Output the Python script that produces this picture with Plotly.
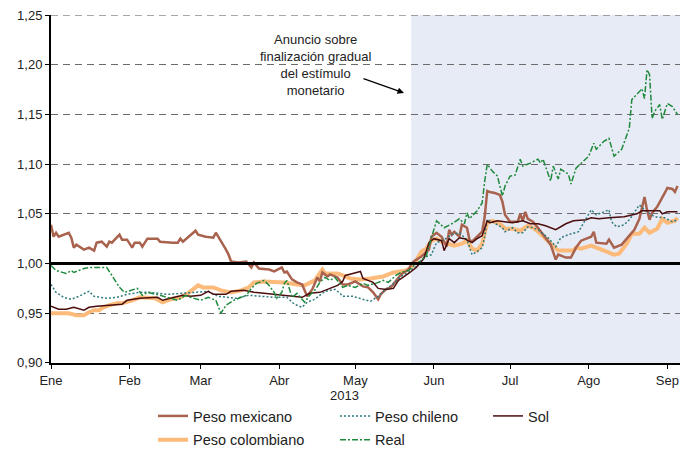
import pandas as pd
import plotly.graph_objects as go

# Days counted from 1 Jan 2013 (0 = 1 Jan)
mx_dias = [0, 1, 2, 3, 7, 8, 9, 10, 13, 15, 17, 18, 20, 22, 23, 24, 27, 28, 30, 32, 33, 35, 36, 38, 42, 43, 48, 50,
           51, 52, 57, 58, 61, 64, 65, 66, 68, 69, 70, 71, 74, 77, 79, 80, 82, 86, 88, 91, 92, 93, 95, 97, 99, 101,
           103, 105, 106, 107, 109, 110, 113, 115, 117, 120, 123, 125, 127, 129, 130, 132, 134, 136, 138, 141, 142,
           143, 146, 149, 150, 152, 154, 156, 157, 158, 159, 161, 162, 164, 165, 166, 168, 170, 171, 172, 173, 175,
           177, 178, 179, 181, 184, 185, 186, 187, 188, 190, 192, 195, 197, 199, 200, 203, 205, 207, 209, 213, 214,
           215, 219, 220, 222, 225, 227, 230, 232, 233, 234, 235, 236, 237, 239, 242, 243, 245, 246, 247]
mx_vals = [1.039, 1.027, 1.031, 1.027, 1.031, 1.026, 1.016, 1.019, 1.014, 1.016, 1.013, 1.021, 1.022, 1.017, 1.022,
           1.021, 1.029, 1.024, 1.024, 1.016, 1.021, 1.021, 1.017, 1.025, 1.025, 1.022, 1.021, 1.021, 1.025, 1.022,
           1.033, 1.029, 1.027, 1.026, 1.031, 1.027, 1.019, 1.014, 1.009, 1.002, 1.001, 1.002, 0.996, 1.001, 0.995,
           0.994, 0.992, 0.996, 0.991, 0.992, 0.984, 0.981, 0.979, 0.967, 0.974, 0.986, 0.982, 0.991, 0.987, 0.989,
           0.986, 0.979, 0.979, 0.982, 0.977, 0.976, 0.971, 0.964, 0.969, 0.974, 0.976, 0.982, 0.989, 0.994, 0.999,
           1.002, 1.007, 1.014, 1.027, 1.031, 1.027, 1.017, 1.034, 1.029, 1.032, 1.027, 1.039, 1.036, 1.024, 1.022,
           1.027, 1.032, 1.047, 1.073, 1.072, 1.071, 1.069, 1.062, 1.049, 1.042, 1.042, 1.050, 1.043, 1.052, 1.045,
           1.042, 1.036, 1.026, 1.019, 1.004, 1.009, 1.006, 1.006, 1.016, 1.023, 1.027, 1.032, 1.021, 1.020, 1.024,
           1.016, 1.019, 1.025, 1.034, 1.045, 1.055, 1.067, 1.054, 1.044, 1.051, 1.057, 1.071, 1.076, 1.075, 1.072,
           1.078]

cl_dias = [0, 2, 5, 8, 11, 15, 17, 22, 26, 30, 35, 39, 46, 52, 59, 62, 66, 69, 73, 78, 83, 88, 93, 96, 99, 101, 104,
           108, 112, 114, 115, 119, 123, 126, 129, 132, 136, 138, 141, 144, 147, 150, 152, 155, 158, 161, 164, 166,
           168, 170, 171, 172, 174, 178, 179, 182, 184, 186, 188, 190, 192, 196, 199, 201, 204, 208, 210, 213, 215,
           217, 220, 221, 223, 226, 228, 232, 234, 238, 242, 245, 247]
cl_vals = [0.979, 0.971, 0.966, 0.964, 0.967, 0.972, 0.967, 0.965, 0.966, 0.969, 0.971, 0.971, 0.969, 0.970, 0.971,
           0.972, 0.967, 0.966, 0.965, 0.968, 0.967, 0.966, 0.966, 0.959, 0.956, 0.961, 0.964, 0.972, 0.974, 0.970,
           0.967, 0.967, 0.964, 0.962, 0.967, 0.974, 0.982, 0.987, 0.991, 0.997, 1.006, 1.009, 1.021, 1.024, 1.029,
           1.031, 1.024, 1.009, 1.012, 1.016, 1.027, 1.044, 1.042, 1.036, 1.032, 1.036, 1.031, 1.031, 1.037, 1.036,
           1.034, 1.026, 1.017, 1.026, 1.029, 1.032, 1.041, 1.054, 1.049, 1.051, 1.054, 1.042, 1.037, 1.039, 1.044,
           1.059, 1.054, 1.047, 1.046, 1.042, 1.044]

sol_dias = [0, 3, 6, 9, 13, 15, 18, 23, 28, 30, 35, 42, 44, 47, 52, 55, 59, 62, 64, 69, 71, 76, 80, 84, 91, 95, 99,
            102, 106, 110, 113, 115, 116, 119, 122, 123, 127, 129, 132, 135, 137, 141, 144, 147, 149, 151, 154, 155,
            157, 159, 161, 163, 166, 168, 170, 172, 173, 176, 182, 186, 189, 192, 195, 199, 203, 206, 211, 213, 216,
            220, 226, 231, 233, 237, 240, 241, 243, 247]
sol_vals = [0.957, 0.954, 0.954, 0.956, 0.953, 0.956, 0.957, 0.958, 0.959, 0.963, 0.965, 0.966, 0.963, 0.965, 0.968,
            0.967, 0.968, 0.972, 0.969, 0.969, 0.972, 0.973, 0.971, 0.970, 0.968, 0.967, 0.966, 0.970, 0.971, 0.975,
            0.978, 0.982, 0.988, 0.990, 0.992, 0.985, 0.981, 0.975, 0.974, 0.975, 0.983, 0.990, 0.996, 1.005, 1.021,
            1.025, 1.023, 1.013, 1.025, 1.021, 1.026, 1.025, 1.021, 1.025, 1.028, 1.043, 1.041, 1.043, 1.041, 1.043,
            1.040, 1.040, 1.038, 1.034, 1.040, 1.043, 1.044, 1.046, 1.045, 1.046, 1.047, 1.050, 1.053, 1.053, 1.053,
            1.050, 1.052, 1.052]

co_dias = [0, 3, 5, 7, 10, 13, 15, 17, 19, 20, 23, 26, 28, 30, 32, 35, 38, 41, 44, 47, 51, 54, 58, 60, 64, 67, 71,
           75, 78, 80, 84, 92, 97, 100, 104, 107, 108, 113, 118, 122, 126, 131, 135, 140, 142, 144, 146, 148, 150,
           152, 155, 157, 159, 162, 164, 166, 168, 170, 172, 174, 177, 179, 182, 185, 188, 190, 193, 197, 200, 203,
           206, 207, 209, 213, 215, 219, 222, 224, 227, 229, 232, 234, 236, 239, 241, 243, 246, 247]
co_vals = [0.950, 0.950, 0.951, 0.950, 0.948, 0.948, 0.951, 0.953, 0.953, 0.955, 0.958, 0.960, 0.960, 0.961, 0.963,
           0.966, 0.966, 0.965, 0.961, 0.964, 0.966, 0.970, 0.978, 0.976, 0.976, 0.973, 0.971, 0.973, 0.976, 0.981,
           0.982, 0.981, 0.979, 0.978, 0.983, 0.994, 0.990, 0.990, 0.985, 0.984, 0.985, 0.987, 0.991, 0.993, 0.996,
           1.003, 1.012, 1.015, 1.023, 1.025, 1.021, 1.020, 1.018, 1.020, 1.023, 1.015, 1.013, 1.020, 1.041, 1.043,
           1.040, 1.035, 1.035, 1.033, 1.038, 1.036, 1.030, 1.020, 1.013, 1.013, 1.013, 1.016, 1.015, 1.018, 1.016,
           1.013, 1.009, 1.010, 1.020, 1.030, 1.030, 1.036, 1.031, 1.035, 1.045, 1.041, 1.043, 1.046]

re_dias = [0, 2, 6, 8, 9, 13, 15, 19, 22, 24, 27, 29, 32, 34, 36, 38, 43, 46, 50, 53, 55, 59, 62, 65, 67, 69, 72, 75,
           77, 79, 81, 84, 86, 88, 89, 91, 92, 93, 95, 97, 100, 102, 104, 106, 108, 110, 112, 115, 117, 120, 123, 125,
           128, 131, 133, 136, 138, 141, 144, 146, 148, 150, 152, 155, 158, 161, 163, 164, 165, 168, 170, 171, 172,
           174, 176, 178, 179, 181, 183, 185, 186, 189, 192, 193, 194, 197, 198, 200, 201, 204, 205, 207, 209, 212,
           214, 215, 218, 220, 222, 225, 228, 229, 232, 233, 234, 235, 236, 237, 238, 240, 241, 243, 245, 247]
re_vals = [0.998, 0.993, 0.990, 0.993, 0.991, 0.995, 0.996, 0.996, 0.996, 0.988, 0.976, 0.971, 0.973, 0.975, 0.968,
           0.971, 0.968, 0.966, 0.963, 0.968, 0.966, 0.963, 0.966, 0.963, 0.950, 0.958, 0.963, 0.966, 0.968, 0.975,
           0.980, 0.983, 0.978, 0.971, 0.965, 0.971, 0.980, 0.983, 0.966, 0.970, 0.961, 0.968, 0.973, 0.981, 0.986,
           0.983, 0.986, 0.976, 0.978, 0.976, 0.980, 0.978, 0.980, 0.983, 0.981, 0.988, 0.991, 0.993, 1.000, 1.003,
           1.008, 1.026, 1.043, 1.036, 1.040, 1.045, 1.040, 1.051, 1.045, 1.053, 1.061, 1.083, 1.100, 1.093, 1.088,
           1.068, 1.078, 1.088, 1.089, 1.105, 1.098, 1.101, 1.105, 1.101, 1.105, 1.083, 1.098, 1.085, 1.095, 1.090,
           1.080, 1.096, 1.101, 1.108, 1.121, 1.115, 1.123, 1.126, 1.108, 1.115, 1.136, 1.165, 1.173, 1.176, 1.166,
           1.195, 1.190, 1.146, 1.153, 1.160, 1.145, 1.161, 1.158, 1.150]

mes_vals = ["2013-01-01", "2013-02-01", "2013-03-01", "2013-04-01", "2013-05-01",
            "2013-06-01", "2013-07-01", "2013-08-01", "2013-09-01"]
mes_text = ["Ene", "Feb", "Mar", "Abr", "May", "Jun", "Jul", "Ago", "Sep"]
y_ticks = [0.90, 0.95, 1.00, 1.05, 1.10, 1.15, 1.20, 1.25]

anuncio = "2013-05-23"
fin_eje = "2013-09-06"
texto_anuncio = "Anuncio sobre<br>finalización gradual<br>del estímulo<br>monetario"

FONT = "Liberation Sans, Arial, sans-serif"
base = pd.Timestamp("2013-01-01")


def fechas(dias):
    return base + pd.to_timedelta(dias, unit="D")


fig = go.Figure()

# orange first so the thinner lines sit on top of it
fig.add_trace(go.Scatter(x=fechas(co_dias), y=co_vals, name="Peso colombiano", mode="lines",
                         line=dict(color="#FDBB7B", width=4), legend="legend", legendrank=2,
                         legendgroup="co"))
fig.add_trace(go.Scatter(x=fechas(mx_dias), y=mx_vals, name="Peso mexicano", mode="lines",
                         line=dict(color="#A8624E", width=2.5), legend="legend", legendrank=1,
                         legendgroup="mx"))
fig.add_trace(go.Scatter(x=fechas(cl_dias), y=cl_vals, name="Peso chileno", mode="lines",
                         line=dict(color="#2E7A7E", width=1.5, dash="2px,2px"), legend="legend2",
                         legendrank=1, legendgroup="cl"))
fig.add_trace(go.Scatter(x=fechas(sol_dias), y=sol_vals, name="Sol", mode="lines",
                         line=dict(color="#4A0C0C", width=1.5), legend="legend3", legendgroup="sol"))
fig.add_trace(go.Scatter(x=fechas(re_dias), y=re_vals, name="Real", mode="lines",
                         line=dict(color="#1F8A3C", width=1.5, dash="6px,2px,2px,2px"), legend="legend2",
                         legendrank=2, legendgroup="re"))

# shaded period after the announcement
fig.add_shape(type="rect", xref="x", yref="paper", x0=anuncio, x1=fin_eje, y0=0, y1=1,
              fillcolor="#E7EBF5", line_width=0, layer="below")
# thick reference line at 1,00
fig.add_shape(type="line", xref="paper", yref="y", x0=0, x1=1, y0=1.0, y1=1.0,
              line=dict(color="black", width=3))
# dashed line at the top (1,25) so it does not depend on the edge tick
fig.add_shape(type="line", xref="paper", yref="y", x0=0, x1=1, y0=1.25, y1=1.25,
              line=dict(color="#6b6b6b", width=1, dash="7px,5px"), layer="below")

fig.add_annotation(text=texto_anuncio, xref="paper", yref="paper", x=0.4213, y=0.856, showarrow=False,
                   xanchor="center", yanchor="middle", align="center",
                   font=dict(size=13, color="#222", family=FONT))
fig.add_annotation(text="", xref="paper", yref="paper", x=0.5612, y=0.7759, ax=-42, ay=-15,
                   showarrow=True, arrowhead=2, arrowsize=1, arrowwidth=1.3, arrowcolor="black", standoff=0)
fig.add_annotation(text="2013", xref="paper", yref="paper", x=0.466, y=0, yshift=-32, showarrow=False,
                   xanchor="center", yanchor="middle", font=dict(size=13, color="#222", family=FONT))

leg = dict(orientation="v", xanchor="left", yanchor="top", bgcolor="rgba(0,0,0,0)", tracegroupgap=2,
           font=dict(size=14.5, color="#222", family=FONT))
# the page body adds an 8px offset, so the figure is 8px smaller and shifted up/left
fig.update_layout(
    width=689, height=441,
    margin=dict(l=43, r=17, t=7, b=86, autoexpand=False),
    paper_bgcolor="white", plot_bgcolor="white",
    separators=",.",
    font=dict(family=FONT, size=13, color="#222"),
    legend=dict(leg, x=0.1622, y=-0.1063),
    legend2=dict(leg, x=0.4515, y=-0.1063),
    legend3=dict(leg, x=0.6948, y=-0.1063),
    xaxis=dict(range=["2013-01-01", fin_eje], tickvals=mes_vals, ticktext=mes_text,
               showgrid=False, showline=True, linecolor="black", linewidth=2,
               ticks="outside", ticklen=4, tickcolor="black", zeroline=False),
    yaxis=dict(range=[0.8999, 1.2501], tickvals=y_ticks, tickformat=".2f", ticklabeloverflow="allow",
               showgrid=True, gridcolor="#6b6b6b", gridwidth=1, griddash="7px,5px",
               showline=True, linecolor="black", linewidth=2,
               ticks="outside", ticklen=4, tickcolor="black", zeroline=False),
)

fig.write_html("out.html")
